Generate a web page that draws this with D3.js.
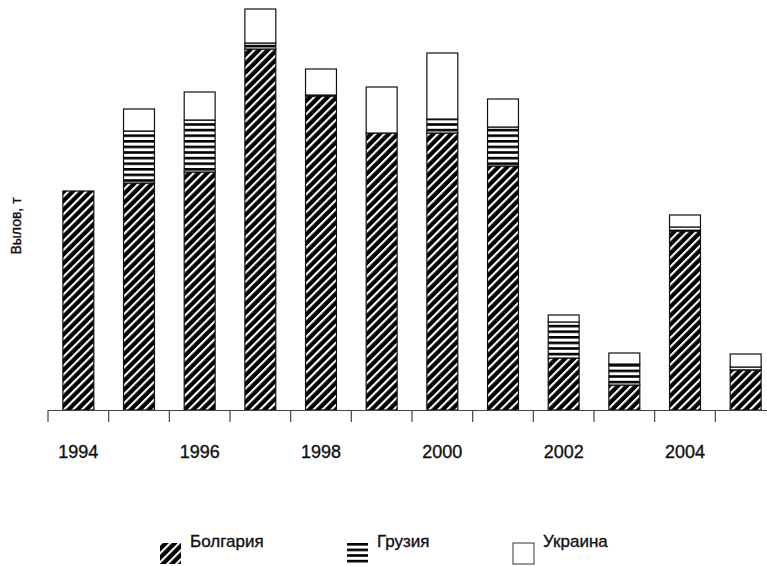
<!DOCTYPE html>
<html>
<head>
<meta charset="utf-8">
<script src="https://cdn.jsdelivr.net/npm/d3@7"></script>
<style>
  body { margin: 0; background: #fff; }
  svg { display: block; font-family: "Liberation Sans", Arial, sans-serif; }
  text { stroke: #111; stroke-width: 0.35px; }
</style>
</head>
<body>
<div id="wrapper"></div>
<script>
const years = [1994, 1995, 1996, 1997, 1998, 1999, 2000, 2001, 2002, 2003, 2004, 2005];
const tickYears = [1994, 1996, 1998, 2000, 2002, 2004];
const countries = ["Болгария", "Грузия", "Украина"];
// catch, t (no scale given)
const bulgaria = [219, 227, 238, 361, 314, 277, 277, 244, 52, 25, 179, 40];
const georgia  = [0, 52, 52, 6, 1, 0, 14, 39, 36, 21, 4, 3];
const ukraine  = [0, 22, 28, 34, 26, 46, 66, 28, 7, 11, 12, 13];

const width = 767, height = 566;
const baseY = 410;

const rows = years.map((y, i) => ({
  year: y,
  "Болгария": bulgaria[i],
  "Грузия": georgia[i],
  "Украина": ukraine[i]
}));

const series = d3.stack().keys(countries)(rows);

const x = d3.scaleBand()
  .domain(years)
  .range([48, 776])
  .paddingInner(0.49)
  .paddingOuter(0.245);

const y = d3.scaleLinear()
  .domain([0, 400])
  .range([baseY, 10]);

const svg = d3.select("#wrapper").append("svg")
  .attr("width", width)
  .attr("height", height);

const defs = svg.append("defs");

// diagonal hatch
const diag = defs.append("pattern")
  .attr("id", "p-diag")
  .attr("patternUnits", "userSpaceOnUse")
  .attr("width", 6.3)
  .attr("height", 6.3)
  .attr("patternTransform", "rotate(45)");
diag.append("rect").attr("width", 6.3).attr("height", 6.3).attr("fill", "#000");
diag.append("rect").attr("x", 0).attr("width", 2.1).attr("height", 6.3).attr("fill", "#fff");

// horizontal lines
const hor = defs.append("pattern")
  .attr("id", "p-hor")
  .attr("patternUnits", "userSpaceOnUse")
  .attr("width", 8)
  .attr("height", 5.6);
hor.append("rect").attr("width", 8).attr("height", 5.6).attr("fill", "#fff");
hor.append("rect").attr("y", 0).attr("width", 8).attr("height", 2.6).attr("fill", "#000");

const fills = {
  "Болгария": "url(#p-diag)",
  "Грузия": "url(#p-hor)",
  "Украина": "#fff"
};

svg.append("g")
  .selectAll("g")
  .data(series)
  .join("g")
  .attr("fill", d => fills[d.key])
  .selectAll("rect")
  .data(d => d.filter(v => v[1] - v[0] > 0))
  .join("rect")
  .attr("x", d => x(d.data.year))
  .attr("y", d => y(d[1]))
  .attr("width", x.bandwidth())
  .attr("height", d => y(d[0]) - y(d[1]))
  .attr("stroke", "#111")
  .attr("stroke-width", 1.2);

// x axis: baseline and ticks at band boundaries
const step = x.step();
const gap = step - x.bandwidth();
const axis = svg.append("g").attr("stroke", "#444").attr("stroke-width", 1.2);
axis.append("line")
  .attr("x1", 48).attr("x2", width)
  .attr("y1", baseY + 0.5).attr("y2", baseY + 0.5);
axis.selectAll(".tick")
  .data(years)
  .join("line")
  .attr("class", "tick")
  .attr("x1", d => x(d) - gap / 2)
  .attr("x2", d => x(d) - gap / 2)
  .attr("y1", baseY)
  .attr("y2", baseY + 12);

svg.append("g")
  .selectAll("text")
  .data(tickYears)
  .join("text")
  .attr("x", d => x(d) + x.bandwidth() / 2)
  .attr("y", 458)
  .attr("text-anchor", "middle")
  .attr("font-size", 18)
  .attr("fill", "#111")
  .text(d => d);

svg.append("text")
  .attr("transform", "translate(21,226) rotate(-90)")
  .attr("text-anchor", "middle")
  .attr("font-size", 14)
  .attr("fill", "#111")
  .text("Вылов, т");

// legend
const legendX = [160, 347, 513];
const legend = svg.append("g")
  .selectAll("g")
  .data(countries)
  .join("g")
  .attr("transform", (d, i) => `translate(${legendX[i]},543)`);
legend.append("rect")
  .attr("width", 21)
  .attr("height", 21)
  .attr("fill", d => fills[d])
  .attr("stroke", d => d === "Украина" ? "#333" : "none");
legend.append("text")
  .attr("x", 30)
  .attr("y", 4)
  .attr("font-size", 17)
  .attr("fill", "#111")
  .text(d => d);
</script>
</body>
</html>
